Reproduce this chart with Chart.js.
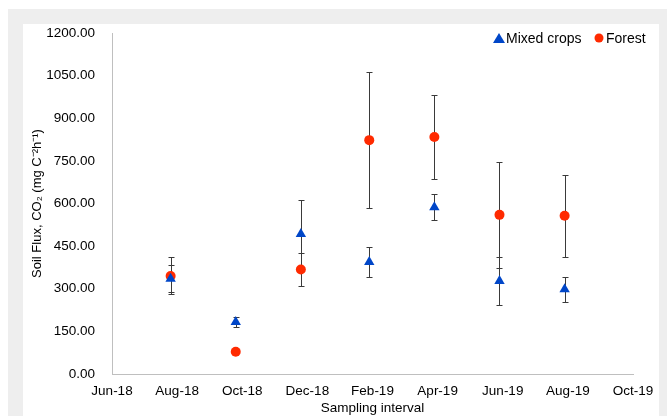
<!DOCTYPE html>
<html>
<head>
<meta charset="utf-8">
<script src="https://cdn.jsdelivr.net/npm/chart.js@4.4.0/dist/chart.umd.min.js"></script>
<style>
  html, body { margin: 0; padding: 0; background: #fff; }
  #frame { position: absolute; left: 8px; top: 9px; width: 659px; height: 407px; background: #eeeeee; }
  #panel { position: absolute; left: 23px; top: 24px; width: 636px; height: 392px; background: #fff; }
  #wrap { position: absolute; left: 0; top: 0; width: 667px; height: 416px; }
</style>
</head>
<body>
<div id="frame"></div>
<div id="panel"></div>
<div id="wrap"><canvas id="fluxChart"></canvas></div>
<script>
// tick labels on the x axis (every two months, starting Jun-18 = 0)
var monthLabels = ["Jun-18", "Aug-18", "Oct-18", "Dec-18", "Feb-19", "Apr-19", "Jun-19", "Aug-19", "Oct-19"];
// sampling dates, in months after Jun-18
var sampleMonths = [1.8, 3.8, 5.8, 7.9, 9.9, 11.9, 13.9];

// soil CO2 flux, mean and error
var mixedFlux = [335, 183, 493, 394, 587, 327, 298];
var mixedErr = [47, 18, 120, 52, 45, 85, 43];
var forestFlux = [345, 78, 368, 823, 834, 560, 557];
var forestErr = [65, 0, 57, 240, 149, 187, 144];

var blue = '#0046c8';
var red = '#ff2a00';

function toPoints(xs, ys, errs) {
    return xs.map(function (x, i) {
        return { x: x, y: ys[i], err: errs[i] };
    });
}

// Error bars, drawn under the markers
var errorBars = {
    id: 'errorBars',
    beforeDatasetsDraw: function (chart) {
        var ctx = chart.ctx;
        var xs = chart.scales.x, ys = chart.scales.y;
        ctx.save();
        ctx.strokeStyle = '#3a3a3a';
        ctx.lineWidth = 1;
        chart.data.datasets.forEach(function (ds) {
            ds.data.forEach(function (p) {
                if (!p.err) return;
                var px = Math.round(xs.getPixelForValue(p.x)) + 0.5;
                var top = Math.round(ys.getPixelForValue(p.y + p.err)) + 0.5;
                var bot = Math.round(ys.getPixelForValue(p.y - p.err)) + 0.5;
                ctx.beginPath();
                ctx.moveTo(px, top); ctx.lineTo(px, bot);
                ctx.moveTo(px - 3, top); ctx.lineTo(px + 3, top);
                ctx.moveTo(px - 3, bot); ctx.lineTo(px + 3, bot);
                ctx.stroke();
            });
        });
        ctx.restore();
    }
};

// Legend inside the plot, top right
var innerLegend = {
    id: 'innerLegend',
    afterDraw: function (chart) {
        var ctx = chart.ctx;
        ctx.save();
        ctx.font = '14px "Liberation Sans", Arial, sans-serif';
        ctx.textBaseline = 'middle';
        var y = 38;
        // triangle
        ctx.fillStyle = blue;
        ctx.beginPath();
        ctx.moveTo(499, y - 5); ctx.lineTo(505, y + 5); ctx.lineTo(493, y + 5);
        ctx.closePath(); ctx.fill();
        ctx.fillStyle = '#000';
        ctx.fillText(chart.data.datasets[0].label, 506, y + 1);
        // circle
        ctx.fillStyle = red;
        ctx.beginPath(); ctx.arc(599, y, 4.5, 0, Math.PI * 2); ctx.fill();
        ctx.fillStyle = '#000';
        ctx.fillText(chart.data.datasets[1].label, 606, y + 1);
        ctx.restore();
    }
};

var ctx = document.getElementById("fluxChart").getContext('2d');
var fluxChart = new Chart(ctx, {
    type: 'scatter',
    data: {
        datasets: [{
            label: 'Mixed crops',
            data: toPoints(sampleMonths, mixedFlux, mixedErr),
            pointStyle: 'triangle',
            pointRadius: 6,
            backgroundColor: blue,
            borderColor: blue,
            borderWidth: 0
        }, {
            label: 'Forest',
            data: toPoints(sampleMonths, forestFlux, forestErr),
            pointStyle: 'circle',
            pointRadius: 5,
            backgroundColor: red,
            borderColor: red,
            borderWidth: 0
        }]
    },
    options: {
        responsive: true,
        maintainAspectRatio: false,
        animation: false,
        layout: { padding: { left: 26, right: 34, top: 33, bottom: 0 } },
        plugins: {
            legend: { display: false },
            tooltip: { enabled: false }
        },
        scales: {
            x: {
                type: 'linear',
                min: 0,
                max: 16,
                grid: { display: false, drawTicks: false },
                border: { display: true, color: '#bfbfbf', width: 1 },
                ticks: {
                    stepSize: 2,
                    padding: 9,
                    color: '#000',
                    maxRotation: 0,
                    font: { family: '"Liberation Sans", Arial, sans-serif', size: 13.5 },
                    callback: function (v) { return monthLabels[v / 2]; }
                },
                title: {
                    display: true,
                    text: 'Sampling interval',
                    color: '#000',
                    padding: { top: 0, bottom: 0 },
                    font: { family: '"Liberation Sans", Arial, sans-serif', size: 13.5 }
                },
                afterFit: function (scale) { scale.height = 42; }
            },
            y: {
                min: 0,
                max: 1200,
                grid: { display: false, drawTicks: false },
                border: { display: true, color: '#bfbfbf', width: 1 },
                ticks: {
                    stepSize: 150,
                    padding: 17,
                    color: '#000',
                    font: { family: '"Liberation Sans", Arial, sans-serif', size: 13.5 },
                    callback: function (v) { return v.toFixed(2); }
                },
                title: {
                    display: true,
                    text: 'Soil Flux, CO\u2082 (mg C\u207B\u00B2h\u207B\u00B9)',
                    color: '#000',
                    padding: { top: 4, bottom: 0 },
                    font: { family: '"Liberation Sans", Arial, sans-serif', size: 13 }
                },
                afterFit: function (scale) { scale.width = 86; }
            }
        }
    },
    plugins: [errorBars, innerLegend]
});
</script>
</body>
</html>
